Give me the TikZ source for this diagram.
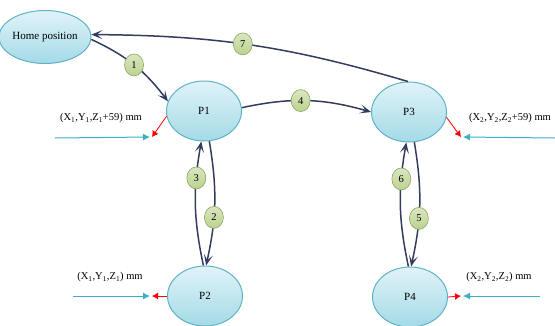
\documentclass[tikz,border=0pt]{standalone}
\usepackage{fontspec}
\setmainfont{Liberation Serif}
\usetikzlibrary{arrows.meta,shapes.geometric}
\definecolor{movecol}{HTML}{323C5E}
\definecolor{rimcol}{HTML}{5FB2C4}
\definecolor{stattop}{HTML}{E0F3F8}
\definecolor{statbot}{HTML}{A4DAE7}
\definecolor{numfill}{HTML}{BBD28F}
\definecolor{numrim}{HTML}{8EA55E}
\definecolor{feedcol}{HTML}{3AAFC7}
\tikzset{
  station/.style={ellipse, draw=rimcol, line width=1pt, top color=stattop,
    bottom color=statbot, minimum width=75pt, minimum height=60pt,
    inner sep=0pt, font=\fontsize{11}{12}\selectfont},
  num/.style={ellipse, draw=numrim, line width=0.6pt, top color=numfill!55,
    bottom color=numfill, minimum width=19pt, minimum height=22pt,
    inner sep=0pt, font=\fontsize{10.5}{10}\selectfont},
  move/.style={draw=movecol, line width=1.5pt,
    -{Stealth[length=11pt,width=9pt,inset=5.5pt]}},
  probe/.style={draw=red, line width=0.8pt, -{Latex[length=6pt,width=7pt]}},
  feed/.style={draw=feedcol, line width=1pt, -{Latex[length=7pt,width=7pt]}},
  coord/.style={font=\fontsize{10.5}{12}\selectfont, inner sep=0pt}
}
\begin{document}
\begin{tikzpicture}[x=1pt,y=-1pt]
\useasboundingbox (0,0) rectangle (555,325);
\clip (0,0) rectangle (555,325);
%--------------------------------------------------- stations
\node[station, minimum width=77pt, minimum height=53pt] (home) at (45,37) {Home position};
\node[station] (p1) at (204,111) {P1};
\node[station] (p3) at (409,112) {P3};
\node[station] (p2) at (205,296) {P2};
\node[station] (p4) at (410,297) {P4};
%--------------------------------------------------- moves
\draw[move] (home.-3) to[bend left=14] node[num] (n1) {1} (p1.165);
\draw[move] (p1.-80) to[bend left=11] node[num, pos=0.62] (n2) {2} (p2.88);
\draw[move] (p2.93) to[bend left=11] node[num, pos=0.72] (n3) {3} (p1.-95);
\draw[move] (p1.5) to[bend left=14] node[num, pos=0.45] (n4) {4} (p3.180);
\draw[move] (p3.-80) to[bend left=11] node[num, pos=0.62] (n5) {5} (p4.88);
\draw[move] (p4.93) to[bend left=11] node[num, pos=0.72] (n6) {6} (p3.-95);
\draw[move] (p3.92) to[bend right=8] node[num, pos=0.53] (n7) {7} (home.3);
%--------------------------------------------------- approach points
\coordinate (a1) at (152,137);
\coordinate (a3) at (461,137);
\coordinate (a2) at (152,296);
\coordinate (a4) at (461,296);
\coordinate (f1) at (55,138);
\coordinate (f3) at (555,138);
\coordinate (f2) at (73,296);
\coordinate (f4) at (540,296);
\draw[probe] (p1.188) -- (a1);
\draw[probe] (p3.-8) -- (a3);
\draw[probe] (p2.west) -- (a2);
\draw[probe] (p4.east) -- (a4);
\draw[feed] (f1) -- ([xshift=-2pt]a1);
\draw[feed] (f3) -- ([xshift=2pt]a3);
\draw[feed] (f2) -- ([xshift=-2pt]a2);
\draw[feed] (f4) -- ([xshift=2pt]a4);
%--------------------------------------------------- coordinates
\node[coord] (c1) at (101,118) {(X\textsubscript{1},Y\textsubscript{1},Z\textsubscript{1}+59) mm};
\node[coord] (c3) at (510,118) {(X\textsubscript{2},Y\textsubscript{2},Z\textsubscript{2}+59) mm};
\node[coord] (c2) at (110,277) {(X\textsubscript{1},Y\textsubscript{1},Z\textsubscript{1}) mm};
\node[coord] (c4) at (499,277) {(X\textsubscript{2},Y\textsubscript{2},Z\textsubscript{2}) mm};
\end{tikzpicture}
\end{document}
